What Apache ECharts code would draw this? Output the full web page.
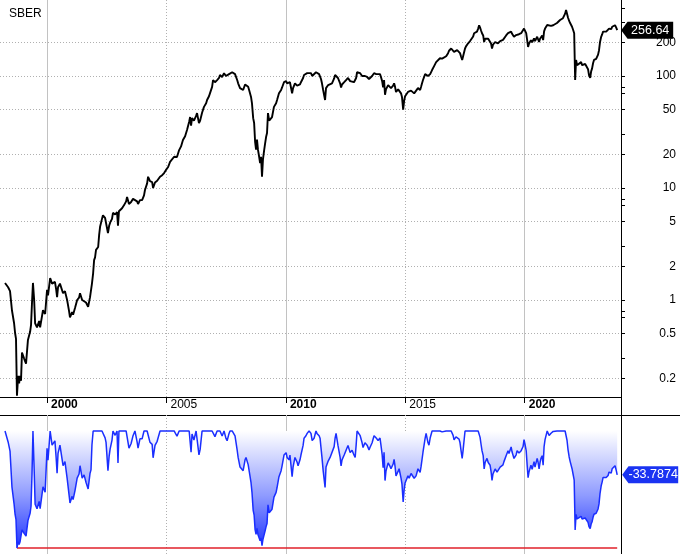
<!DOCTYPE html>
<html><head><meta charset="utf-8">
<script src="https://cdn.jsdelivr.net/npm/echarts@6/dist/echarts.min.js"></script>
<style>html,body{margin:0;padding:0;background:#fff}#c{width:680px;height:554px}</style>
</head><body><div id="c"></div>
<script>
const ticker = 'SBER';
const years = [
1998.24,1998.37,1998.45,1998.53,1998.62,1998.66,1998.70,1998.74,1998.79,1998.83,
1998.87,1998.91,1998.95,1999.04,1999.12,1999.20,1999.29,1999.33,1999.37,1999.41,
1999.46,1999.50,1999.58,1999.67,1999.71,1999.83,1999.92,2000.00,2000.04,2000.13,
2000.21,2000.33,2000.38,2000.42,2000.46,2000.54,2000.67,2000.75,2000.84,2000.92,
2000.96,2001.05,2001.09,2001.17,2001.26,2001.34,2001.38,2001.47,2001.55,2001.63,
2001.72,2001.80,2001.84,2001.88,2001.93,2001.97,2002.01,2002.05,2002.14,2002.18,
2002.22,2002.30,2002.34,2002.43,2002.47,2002.55,2002.60,2002.64,2002.72,2002.76,
2002.85,2002.93,2002.97,2003.01,2003.06,2003.14,2003.22,2003.31,2003.35,2003.43,
2003.52,2003.60,2003.68,2003.77,2003.81,2003.89,2003.98,2004.06,2004.10,2004.19,
2004.23,2004.31,2004.40,2004.44,2004.52,2004.61,2004.73,2004.82,2004.90,2004.98,
2005.07,2005.15,2005.23,2005.32,2005.36,2005.44,2005.53,2005.61,2005.69,2005.78,
2005.86,2005.95,2005.99,2006.03,2006.07,2006.15,2006.24,2006.28,2006.36,2006.41,
2006.49,2006.57,2006.66,2006.70,2006.78,2006.82,2006.91,2006.95,2007.03,2007.12,
2007.20,2007.24,2007.33,2007.41,2007.49,2007.54,2007.62,2007.66,2007.75,2007.79,
2007.87,2007.96,2008.00,2008.08,2008.12,2008.21,2008.29,2008.33,2008.42,2008.46,
2008.54,2008.58,2008.63,2008.67,2008.71,2008.75,2008.79,2008.83,2008.88,2008.92,
2008.96,2009.00,2009.04,2009.09,2009.13,2009.17,2009.21,2009.25,2009.30,2009.34,
2009.42,2009.50,2009.59,2009.63,2009.71,2009.80,2009.84,2009.92,2010.01,2010.05,
2010.13,2010.17,2010.26,2010.30,2010.38,2010.47,2010.51,2010.59,2010.63,2010.72,
2010.76,2010.84,2010.89,2010.97,2011.05,2011.10,2011.18,2011.26,2011.30,2011.39,
2011.43,2011.47,2011.51,2011.56,2011.64,2011.68,2011.77,2011.85,2011.93,2012.02,
2012.06,2012.10,2012.18,2012.27,2012.31,2012.35,2012.44,2012.52,2012.60,2012.69,
2012.77,2012.85,2012.90,2012.94,2012.98,2013.02,2013.11,2013.19,2013.23,2013.31,
2013.40,2013.48,2013.52,2013.61,2013.69,2013.78,2013.86,2013.94,2013.98,2014.03,
2014.07,2014.11,2014.15,2014.19,2014.28,2014.36,2014.40,2014.49,2014.53,2014.57,
2014.61,2014.70,2014.74,2014.78,2014.82,2014.86,2014.91,2014.95,2014.99,2015.03,
2015.11,2015.16,2015.24,2015.28,2015.37,2015.45,2015.53,2015.62,2015.66,2015.70,
2015.74,2015.83,2015.87,2015.95,2015.99,2016.04,2016.12,2016.20,2016.29,2016.37,
2016.45,2016.54,2016.62,2016.71,2016.79,2016.83,2016.92,2017.00,2017.04,2017.12,
2017.17,2017.25,2017.29,2017.33,2017.38,2017.42,2017.50,2017.54,2017.63,2017.71,
2017.75,2017.84,2017.88,2017.96,2018.00,2018.05,2018.09,2018.13,2018.17,2018.21,
2018.26,2018.30,2018.34,2018.42,2018.47,2018.55,2018.59,2018.63,2018.67,2018.76,
2018.84,2018.88,2018.97,2019.01,2019.09,2019.13,2019.22,2019.30,2019.34,2019.43,
2019.47,2019.55,2019.64,2019.68,2019.76,2019.85,2019.93,2019.97,2020.01,2020.06,
2020.10,2020.14,2020.18,2020.26,2020.31,2020.39,2020.43,2020.52,2020.56,2020.60,
2020.64,2020.68,2020.73,2020.77,2020.81,2020.85,2020.94,2021.02,2021.10,2021.19,
2021.27,2021.35,2021.40,2021.48,2021.56,2021.60,2021.69,2021.73,2021.77,2021.81,
2021.86,2021.90,2021.98,2022.02,2022.07,2022.11,2022.15,2022.19,2022.23,2022.27,
2022.36,2022.40,2022.48,2022.53,2022.61,2022.65,2022.69,2022.74,2022.78,2022.82,
2022.86,2022.90,2022.99,2023.03,2023.07,2023.11,2023.15,2023.20,2023.24,2023.28,
2023.36,2023.41,2023.49,2023.53,2023.62,2023.66,2023.74,2023.78,2023.83,2023.87
];
const prices = [
1.42,1.30,1.20,0.81,0.62,0.51,0.45,0.14,0.21,0.18,
0.21,0.19,0.34,0.30,0.27,0.44,0.52,0.60,0.95,1.42,
1.00,0.62,0.57,0.65,0.57,0.81,0.75,1.23,1.10,1.57,
1.40,1.45,1.25,1.06,1.30,1.40,1.15,1.20,1.00,0.80,
0.70,0.78,0.74,0.85,1.00,1.05,1.15,1.00,1.04,0.95,
0.87,1.06,1.10,1.40,1.74,2.27,2.40,2.80,2.97,3.80,
4.50,5.30,5.70,5.40,5.20,3.96,4.60,4.90,5.30,6.00,
5.80,6.10,4.60,6.20,6.40,6.60,7.00,7.60,8.30,7.20,
7.50,8.00,8.30,7.60,7.20,7.80,7.80,8.60,9.60,11.0,
12.6,11.5,11.3,10.0,11.2,11.6,12.6,13.0,13.6,14.5,
15.4,17.1,17.8,19.0,19.7,18.9,21.8,23.5,26.8,29.0,
33.0,39.0,43.0,36.0,42.0,40.0,44.0,46.6,38.0,40.0,
47,53,57,61,66,70,80,92,88,92,
96,102,98,106,100,98,104,106,108,107,
104,92,86,78,78,75,84,86,80,75,
65,57,42,38,26,22,27,22,19,16.7,
19,12.6,18,21.8,25,28.5,31,46.6,40,40,
43,53,57,61,70,75,79,88,90,86,
84,88,70,78,86,82,79,84,88,96,
102,104,106,108,106,100,102,108,106,104,
102,94,86,75,61,78,83,86,86,95,
102,106,96,86,79,84,88,92,96,90,
92,88,86,96,108,110,106,100,96,100,
98,94,96,100,106,104,102,104,98,90,
79,92,68,76,83,80,78,82,86,80,
72,76,78,74,70,65,50,60,66,65,
72,70,74,75,70,72,78,75,80,86,
92,104,108,100,98,104,113,122,133,138,
144,143,148,150,160,168,176,170,164,168,
170,165,160,150,139,150,176,184,196,205,
209,225,241,245,249,265,284,270,255,241,
230,201,215,224,215,209,195,176,190,201,
194,196,205,201,210,217,230,241,235,249,
238,224,232,241,236,241,250,265,255,241,
210,182,195,209,200,217,205,224,215,201,
215,224,230,209,250,265,285,275,280,284,
292,297,305,316,322,328,360,387.6,360,333,
310,297,275,260,241,92,139,125,120,130,
133,125,120,128,130,115,102,96,110,117,
130,139,142,144,155,170,200,224,235,249,
245,249,255,265,262,275,270,284,270,256.64
];
const priceTicks = [200, 100, 50, 20, 10, 5, 2, 1, 0.5, 0.2];
const priceMinorTicks = [400, 300, 80, 70, 30, 8, 7, 3, 0.8, 0.7, 0.3];
const yearTicks = [2000, 2005, 2010, 2015, 2020];
const boldYears = [2000, 2010, 2020];

const FONT = '"Liberation Sans", Arial, sans-serif';
const xMin = 1998.03, xMax = 2024.03;
const priceMin = 0.1361, priceMax = 477;
const ddMin = -94.7, ddMax = 12.3;

const n = years.length, last = n - 1;
const pricePts = years.map((y, i) => [y, prices[i]]);
let runMax = 0;
const drawdown = prices.map(p => { runMax = Math.max(runMax, p); return (p / runMax - 1) * 100; });
const ddPts = years.map((y, i) => [y, drawdown[i]]);
let minIdx = 0;
drawdown.forEach((d, i) => { if (d < drawdown[minIdx]) minIdx = i; });

function vLine(yr) {
  const major = boldYears.includes(yr);
  return { xAxis: yr, lineStyle: { color: major ? '#c2c2c2' : '#b0b0b0', type: major ? 'solid' : [1, 2], width: 1 } };
}
function hLine(v) {
  return { yAxis: v, lineStyle: { color: '#b0b0b0', type: [1, 2], width: 1 } };
}

const chart = echarts.init(document.getElementById('c'), null, { renderer: 'canvas' });
chart.setOption({
  animation: false,
  backgroundColor: '#fff',
  title: { text: ticker, left: 4, top: 3, textStyle: { fontSize: 12, fontWeight: 'normal', color: '#000', fontFamily: FONT } },
  grid: [
    { left: 0, top: 0, width: 621, height: 397 },
    { left: 0, top: 415, width: 621, height: 139 }
  ],
  xAxis: [
    { type: 'value', gridIndex: 0, min: xMin, max: xMax,
      splitLine: { show: false },
      axisLine: { show: true, onZero: false, lineStyle: { color: '#000', width: 1 } },
      axisTick: { show: true, customValues: yearTicks, length: 6, lineStyle: { color: '#000' } },
      axisLabel: { customValues: yearTicks, align: 'left', margin: 2, padding: [0, 0, 0, 4],
        formatter: v => boldYears.includes(v) ? '{b|' + v + '}' : '{n|' + v + '}',
        rich: { b: { fontWeight: 'bold', fontSize: 12, fontFamily: FONT, color: '#000' },
                n: { fontSize: 12, fontFamily: FONT, color: '#000' } } } },
    { type: 'value', gridIndex: 1, min: xMin, max: xMax,
      axisLine: { show: false }, axisTick: { show: false }, axisLabel: { show: false }, splitLine: { show: false } }
  ],
  yAxis: [
    { type: 'log', logBase: 10, gridIndex: 0, position: 'right', min: priceMin, max: priceMax,
      splitLine: { show: false },
      axisLine: { show: true, onZero: false, lineStyle: { color: '#000', width: 1 } },
      axisTick: { show: true, customValues: priceTicks.concat(priceMinorTicks), length: 4, lineStyle: { color: '#000' } },
      axisLabel: { customValues: priceTicks, align: 'right', margin: 55, fontSize: 12, color: '#000', fontFamily: FONT,
        formatter: v => String(+(+v).toPrecision(6)) } },
    { type: 'value', gridIndex: 1, position: 'right', min: ddMin, max: ddMax,
      axisLine: { show: true, onZero: false, lineStyle: { color: '#000', width: 1 } },
      axisTick: { show: false }, axisLabel: { show: false }, splitLine: { show: false } }
  ],
  graphic: [
    { type: 'line', shape: { x1: 0, y1: 415.5, x2: 680, y2: 415.5 }, style: { stroke: '#000', lineWidth: 1 }, silent: true },
    { type: 'line', shape: { x1: 621.5, y1: 397, x2: 621.5, y2: 416 }, style: { stroke: '#000', lineWidth: 1 }, silent: true }
  ],
  series: [
    { type: 'line', xAxisIndex: 0, yAxisIndex: 0, data: [], silent: true, z: 1,
      markLine: { silent: true, symbol: ['none', 'none'], label: { show: false }, animation: false,
        data: priceTicks.map(hLine).concat(yearTicks.map(vLine)) } },
    { type: 'line', xAxisIndex: 1, yAxisIndex: 1, data: [], silent: true, z: 1,
      markLine: { silent: true, symbol: ['none', 'none'], label: { show: false }, animation: false,
        data: yearTicks.map(vLine) } },
    { name: ticker, type: 'line', xAxisIndex: 0, yAxisIndex: 0, data: pricePts, z: 10,
      showSymbol: false, silent: true,
      lineStyle: { color: '#000', width: 1.9 },
      markPoint: { silent: true, symbol: 'path://M0,8L7,0H57V16H7Z', symbolSize: [52, 17], symbolOffset: [30, 0],
        itemStyle: { color: '#000' },
        label: { show: true, color: '#fff', fontSize: 12.5, fontFamily: FONT, offset: [3, 0],
          formatter: p => p.value.toFixed(2) },
        data: [{ coord: [years[last], prices[last]], value: prices[last] }] } },
    { name: 'Drawdown', type: 'line', xAxisIndex: 1, yAxisIndex: 1, data: ddPts, z: 10,
      showSymbol: false, silent: true,
      lineStyle: { color: '#1a2eff', width: 1.5 },
      areaStyle: { origin: 0, opacity: 1, color: new echarts.graphic.LinearGradient(0, 0, 0, 1, [
        { offset: 0, color: '#ffffff' }, { offset: 0.55, color: '#8f9bff' }, { offset: 1, color: '#2034ff' } ]) },
      markLine: { silent: true, symbol: ['none', 'none'], label: { show: false }, animation: false,
        lineStyle: { color: '#e0202a', width: 1.5, type: 'solid' },
        data: [[ { coord: [years[minIdx], drawdown[minIdx]] }, { coord: [years[last], drawdown[minIdx]] } ]] },
      markPoint: { silent: true, symbol: 'path://M0,8L7,0H62V16H7Z', symbolSize: [56, 17], symbolOffset: [33, 0],
        itemStyle: { color: '#1a33f2' },
        label: { show: true, color: '#fff', fontSize: 12.5, fontFamily: FONT, offset: [3, 0],
          formatter: p => p.value.toFixed(4) },
        data: [{ coord: [years[last], drawdown[last]], value: drawdown[last] }] } }
  ]
});
</script>
</body></html>
